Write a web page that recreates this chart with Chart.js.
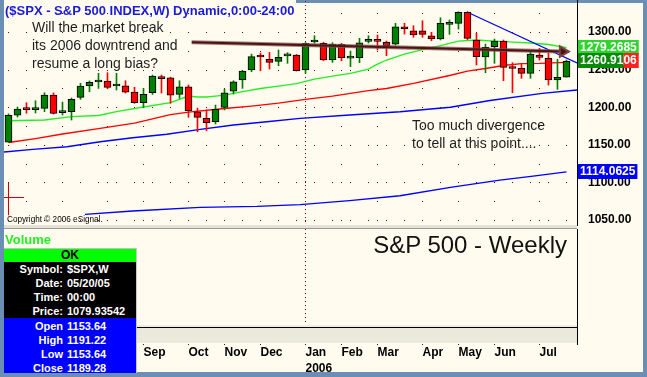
<!DOCTYPE html>
<html>
<head>
<meta charset="utf-8">
<script src="https://cdn.jsdelivr.net/npm/chart.js@4.4.1/dist/chart.umd.min.js"></script>
<style>
  body { margin: 0; width: 647px; height: 377px; overflow: hidden; position: relative; background: #6b8fb4; font-family: Arial, "Liberation Sans", sans-serif; }
  .abs { position: absolute; white-space: nowrap; }
  #paper { position: absolute; left: 4px; top: 0; width: 639px; height: 372px; background: #fffbef; }
  #topStrip { position: absolute; left: 296px; top: 0; width: 351px; height: 3px; background: #6b8fb4; }
  #priceChart { position: absolute; left: 4px; top: 0; }
  #volumeChart { position: absolute; left: 4px; top: 229px; }
  #sep { position: absolute; left: 4px; top: 225px; width: 573px; height: 3px; background: #e4e1d6; border-bottom: 1px solid #9a9a9a; }
  #info { position: absolute; left: 4px; top: 248px; width: 132px; height: 124px; border-top: 1px solid #c0c0c0; border-right: 1px solid #c8c8c8; font: bold 11px Arial, "Liberation Sans", sans-serif; color: #fff; overflow: hidden; }
  #info .ok { height: 13px; line-height: 13px; background: #00ff00; color: #000; text-align: center; font-size: 12px; }
  #info .blk { background: #000; height: 56px; }
  #info .blu { background: #0000ff; height: 55px; padding-top: 1px; }
  #info .row { display: flex; height: 14px; line-height: 14px; }
  #info .lb { width: 59px; text-align: right; margin-right: 4px; }
</style>
</head>
<body>
<div id="paper"></div>
<div id="topStrip"></div>
<canvas id="priceChart" width="639" height="229"></canvas>
<div id="sep"></div>
<canvas id="volumeChart" width="639" height="143"></canvas>

<div class="abs" style="left:5px;top:3px;line-height:16px;font-weight:bold;font-size:13px;color:#1a1adc;">($SPX - S&amp;P 500 INDEX,W) Dynamic,0:00-24:00</div>
<div class="abs" style="left:32px;top:18px;line-height:18px;font-size:14px;color:#1e1e1e;">Will the market break<br>its 2006 downtrend and<br>resume a long bias?</div>
<div class="abs" style="left:412px;top:116px;line-height:18px;font-size:14px;color:#1e1e1e;">Too much divergence<br>to tell at this point....</div>
<div class="abs" style="left:7px;top:214px;line-height:12px;font-size:8.2px;color:#000;">Copyright © 2006 eSignal.</div>
<div class="abs" style="left:5px;top:232px;line-height:16px;font-weight:bold;font-size:13px;color:#22ee22;">Volume</div>
<div class="abs" style="right:80px;top:231px;line-height:28px;font-size:24px;color:#111;">S&amp;P 500 - Weekly</div>

<div id="info">
  <div class="ok">OK</div>
  <div class="blk">
    <div class="row"><span class="lb">Symbol:</span><span>$SPX,W</span></div>
    <div class="row"><span class="lb">Date:</span><span>05/20/05</span></div>
    <div class="row"><span class="lb">Time:</span><span>00:00</span></div>
    <div class="row"><span class="lb">Price:</span><span>1079.93542</span></div>
  </div>
  <div class="blu">
    <div class="row"><span class="lb">Open</span><span>1153.64</span></div>
    <div class="row"><span class="lb">High</span><span>1191.22</span></div>
    <div class="row"><span class="lb">Low</span><span>1153.64</span></div>
    <div class="row"><span class="lb">Close</span><span>1189.28</span></div>
  </div>
</div>

<script>
// Weekly candles, 05/20/05 .. week of 07/24/06 (index = week number)
const opens = [1153.64, 1189.6, 1198.0, 1196.8, 1198.5, 1216.2, 1192.8, 1194.0, 1213.2, 1228.2,
  1233.6, 1234.8, 1228.2, 1228.6, 1220.2, 1206.0, 1219.3, 1240.6, 1239.0, 1217.2,
  1227.3, 1194.0, 1185.2, 1180.7, 1199.9, 1221.5, 1236.2, 1249.5, 1267.6, 1263.7,
  1261.0, 1268.2, 1269.4, 1249.5, 1286.7, 1285.0, 1262.8, 1283.6, 1265.4, 1265.8,
  1287.6, 1288.4, 1286.3, 1284.0, 1307.0, 1301.7, 1301.7, 1295.1, 1290.7, 1310.2,
  1311.6, 1326.2, 1289.4, 1267.0, 1280.5, 1288.0, 1252.1, 1251.7, 1245.1, 1269.4,
  1265.0, 1236.2, 1240.0];
const highs = [1191.22, 1200.3, 1206.0, 1208.6, 1219.3, 1219.0, 1206.9, 1212.2, 1231.8, 1235.0,
  1245.1, 1245.9, 1245.1, 1235.2, 1226.5, 1225.1, 1242.8, 1242.8, 1240.0, 1235.2,
  1229.5, 1198.9, 1196.3, 1202.9, 1224.2, 1235.2, 1249.0, 1270.7, 1272.0, 1273.0,
  1276.1, 1272.5, 1270.3, 1286.0, 1295.1, 1286.3, 1285.8, 1285.0, 1274.7, 1291.6,
  1295.1, 1296.0, 1288.0, 1311.6, 1311.6, 1308.4, 1315.0, 1299.6, 1319.0, 1316.0,
  1327.0, 1327.0, 1298.3, 1284.0, 1290.7, 1289.4, 1259.2, 1257.4, 1275.1, 1278.3,
  1271.7, 1263.7, 1262.8];
const lows = [1153.64, 1187.0, 1192.0, 1192.3, 1194.0, 1191.0, 1189.6, 1183.0, 1210.5, 1220.6,
  1225.0, 1224.6, 1222.9, 1218.9, 1205.2, 1199.3, 1217.0, 1218.9, 1205.2, 1211.8,
  1186.6, 1167.4, 1168.7, 1177.7, 1196.3, 1217.6, 1225.1, 1247.2, 1248.5, 1250.8,
  1255.2, 1258.4, 1248.0, 1245.1, 1285.0, 1262.0, 1259.7, 1261.8, 1253.9, 1259.2,
  1285.4, 1276.1, 1268.5, 1282.7, 1297.3, 1293.0, 1293.0, 1288.4, 1289.5, 1296.9,
  1304.0, 1290.0, 1256.1, 1245.9, 1258.4, 1235.2, 1219.3, 1238.4, 1238.4, 1262.8,
  1229.5, 1223.8, 1240.0];
const closes = [1189.28, 1197.6, 1196.8, 1197.6, 1216.2, 1191.9, 1193.6, 1210.5, 1228.2, 1233.1,
  1234.2, 1226.5, 1229.0, 1220.2, 1206.0, 1217.2, 1241.5, 1237.9, 1216.2, 1227.3,
  1195.3, 1186.6, 1179.4, 1197.2, 1219.3, 1233.9, 1248.1, 1267.2, 1266.8, 1259.7,
  1266.4, 1268.9, 1248.5, 1285.0, 1287.5, 1262.8, 1283.6, 1265.8, 1266.2, 1285.8,
  1288.4, 1287.6, 1281.8, 1307.0, 1304.0, 1296.0, 1296.9, 1290.7, 1311.6, 1311.0,
  1326.2, 1291.6, 1267.2, 1279.7, 1288.0, 1253.1, 1251.5, 1245.1, 1270.7, 1266.4,
  1236.2, 1239.8, 1260.91];

// moving averages and trendlines, read at week positions
const maGreen = [{x:0,y:1182.0},{x:4,y:1183.0},{x:7,y:1187.4},{x:10,y:1189.0},{x:12,y:1194.3},{x:15,y:1200.3},
  {x:18,y:1206.2},{x:20,y:1214.9},{x:21,y:1213.6},{x:22,y:1213.6},{x:23,y:1214.9},{x:24,y:1216.2},{x:26,y:1220.9},
  {x:28,y:1224.9},{x:30,y:1228.2},{x:32,y:1231.5},{x:34,y:1237.5},{x:36,y:1241.5},{x:38,y:1245.1},{x:40,y:1250.8},
  {x:41,y:1257.4},{x:42,y:1262.8},{x:44,y:1270.7},{x:46,y:1276.7},{x:48,y:1281.8},{x:50,y:1288.0},{x:52,y:1289.4},
  {x:54,y:1288.0},{x:56,y:1286.7},{x:58,y:1285.4},{x:60,y:1283.4},{x:62,y:1279.27}];
const maRed = [{x:0,y:1153.1},{x:3,y:1158.4},{x:6,y:1164.4},{x:10,y:1171.7},{x:14,y:1179.0},{x:18,y:1190.3},
  {x:20,y:1193.6},{x:24,y:1198.3},{x:27,y:1201.6},{x:30,y:1205.6},{x:33,y:1210.5},{x:36,y:1214.9},{x:40,y:1222.2},
  {x:42,y:1224.9},{x:45,y:1231.8},{x:49,y:1242.2},{x:51,y:1248.1},{x:53,y:1251.5},{x:55,y:1255.5},{x:57,y:1258.1},
  {x:59,y:1258.4},{x:62,y:1259.7}];
const maBlue = [{x:8.5,y:1057.6},{x:13.8,y:1062.0},{x:21.3,y:1066.9},{x:27.6,y:1068.2},{x:32.4,y:1070.6},
  {x:37.9,y:1075.7},{x:43.5,y:1082.3},{x:49.1,y:1093.5},{x:54.6,y:1103.2},{x:58.3,y:1108.5},{x:62,y:1114.06}];
const supportLine = [{x:-0.5,y:1140.4},{x:2.7,y:1144.0},{x:6.5,y:1147.5},{x:10.2,y:1154.1},{x:13.8,y:1159.4},
  {x:17.6,y:1164.0},{x:21.3,y:1170.6},{x:25,y:1176.3},{x:28.7,y:1180.7},{x:32.4,y:1185.2},{x:37.9,y:1189.6},
  {x:43.5,y:1194.0},{x:49.1,y:1199.9},{x:53.5,y:1208.9},{x:59.3,y:1218.5},{x:63.17,y:1222.9}];
const downTrend = [{x:50.94,y:1326.6},{x:63.17,y:1258.8}];
const arrowLine = [{x:20.36,y:1286.3},{x:61.6,y:1274.1}];

// cursor (crosshair) at the first bar
const crossH = [{x:-0.5,y:1079.94},{x:1.72,y:1079.94}];
const crossV = [{x:0,y:1099.2},{x:0,y:1056.6}];

// last-value tags on the price axis
const tagValues = [1279.2685, 1260.9106, 1114.0625];

const priceTicks = [1050, 1100, 1150, 1200, 1250, 1300];
const halfTicks = [1050, 1075, 1100, 1125, 1150, 1175, 1200, 1225, 1250, 1275, 1300, 1325];
const monthIdx = [2, 6, 11, 15, 20, 24, 28, 33, 37, 41, 46, 50, 54, 59];
const monthNames = ["Jun", "Jul", "Aug", "Sep", "Oct", "Nov", "Dec", "Jan", "Feb", "Mar", "Apr", "May", "Jun", "Jul"];
const janIdx = 33;

const xMin = -0.5, xMax = 63.17;
const yMin = 1043.4, yMax = 1342.6;

Chart.defaults.font.family = 'Arial, "Liberation Sans", sans-serif';

const upColor = "#008000";
const downColor = "#ff0000";
const bodyColors = opens.map((o, i) => (closes[i] >= o ? upColor : downColor));

// dotted eSignal grid: dots along price levels every 2 weeks, along month lines every half level
const dotGrid = {
  id: "dotGrid",
  beforeDatasetsDraw(chart) {
    const { ctx, chartArea, scales } = chart;
    const { x, y } = scales;
    ctx.save();
    ctx.fillStyle = "#800000";
    priceTicks.forEach((p) => {
      const py = Math.round(y.getPixelForValue(p));
      for (let w = 0; w <= 63; w += 2) {
        const px = Math.round(x.getPixelForValue(w) - 0.5);
        if (px < chartArea.right) ctx.fillRect(px, py, 1, 1);
      }
    });
    monthIdx.forEach((m) => {
      const px = Math.round(x.getPixelForValue(m) - 0.5);
      halfTicks.forEach((p) => {
        const py = Math.round(y.getPixelForValue(p));
        if (py > chartArea.top) ctx.fillRect(px, py, 1, 1);
      });
    });
    const jx = Math.round(x.getPixelForValue(janIdx) - 0.5);
    for (let py = chartArea.top + 1; py < chartArea.bottom; py += 4) ctx.fillRect(jx, py, 1, 1);
    ctx.restore();
  }
};

// tags drawn next to the axis
const tagPlugin = {
  id: "tags",
  afterDraw(chart) {
    const { ctx, chartArea, scales } = chart;
    const x0 = chartArea.right + 1;
    ctx.save();
    ctx.font = "bold 12px Arial, 'Liberation Sans', sans-serif";
    ctx.textBaseline = "middle";
    const styles = ["#2fd42f", "#0a8a0a", "#0000ff"];
    tagValues.forEach((v, k) => {
      const cy = Math.round(scales.y.getPixelForValue(v));
      let txt = v.toFixed(4);
      let tail = "";
      if (k === 1) { tail = txt.slice(-2); txt = txt.slice(0, -2); }
      const w = ctx.measureText(txt).width + 2;
      ctx.fillStyle = styles[k];
      ctx.fillRect(x0, cy - 8, w + (tail ? 0 : 2), 15);
      ctx.fillStyle = "#fff";
      ctx.fillText(txt, x0 + 2, cy);
      if (tail) {
        const tw = ctx.measureText(tail).width + 2;
        ctx.fillStyle = "#ff2020";
        ctx.fillRect(x0 + w, cy - 8, tw, 15);
        ctx.fillStyle = "#fff";
        ctx.fillText(tail, x0 + w, cy);
      }
    });
    ctx.restore();
  }
};

const lineDs = (data, color, width, order) => ({
  type: "line", data, borderColor: color, borderWidth: width, pointRadius: 0, tension: 0, order
});

// Price panel (candles + averages)
new Chart(document.getElementById("priceChart"), {
  type: "bar",
  data: {
    datasets: [
      {
        type: "line", data: arrowLine, borderColor: "#4a1414", borderWidth: 2, order: 0,
        pointRadius: (c) => (c.dataIndex === arrowLine.length - 1 ? 6 : 0),
        pointStyle: "triangle", pointRotation: 90,
        pointBackgroundColor: "#4a1414", pointBorderColor: "#7a4444"
      },
      lineDs(arrowLine, "rgba(130,80,80,0.75)", 4, 1),
      lineDs(crossH, "#d00000", 1, 2),
      lineDs(crossV, "#d00000", 1, 2),
      {
        label: "Body", order: 3, grouped: false,
        data: opens.map((o, i) => ({ x: i, y: [o, closes[i]] })),
        backgroundColor: bodyColors, borderColor: "#000", borderWidth: 1,
        borderSkipped: false, barThickness: 7, minBarLength: 2
      },
      {
        label: "Wick", order: 4, grouped: false,
        data: lows.map((l, i) => ({ x: i, y: [l, highs[i]] })),
        backgroundColor: bodyColors, borderWidth: 0, barThickness: 1
      },
      lineDs(downTrend, "#0000ff", 1.2, 5),
      lineDs(supportLine, "#0000ff", 1.4, 6),
      lineDs(maGreen, "#22ee22", 1.3, 7),
      lineDs(maRed, "#ff0000", 1.3, 8),
      lineDs(maBlue, "#0000ff", 1.3, 9)
    ]
  },
  options: {
    responsive: false,
    animation: false,
    events: [],
    layout: { autoPadding: false, padding: { bottom: 4 } },
    plugins: { legend: { display: false }, tooltip: { enabled: false } },
    scales: {
      x: {
        type: "linear", min: xMin, max: xMax, offset: false,
        afterBuildTicks: (s) => { s.ticks = monthIdx.map((v) => ({ value: v })); },
        afterFit: (s) => { s.height = 0; s.paddingLeft = 0; s.paddingRight = 0; },
        ticks: { display: false },
        grid: { display: false, offset: false },
        border: { display: false }
      },
      y: {
        position: "right", min: yMin, max: yMax,
        afterBuildTicks: (s) => { s.ticks = priceTicks.map((v) => ({ value: v })); },
        afterFit: (s) => { s.width = 66; s.paddingTop = 0; s.paddingBottom = 0; },
        ticks: { padding: 3, color: "#000", font: { weight: "bold", size: 12 }, callback: (v) => v.toFixed(2) },
        grid: { display: false },
        border: { color: "#000", width: 1 }
      }
    }
  },
  plugins: [dotGrid, tagPlugin]
});

// scroll bar strip and month tick dots under the volume pane
const axisBarPlugin = {
  id: "axisBar",
  afterDraw(chart) {
    const { ctx, chartArea, scales } = chart;
    const { left, right, bottom } = chartArea;
    ctx.save();
    ctx.fillStyle = "#f0eee4";
    ctx.fillRect(left, bottom, right - left, 2);
    ctx.fillStyle = "#000";
    ctx.fillRect(left, bottom + 2, right - left + 1, 1);
    ctx.fillStyle = "#ebe8dc";
    ctx.fillRect(left, bottom + 3, right - left, 15);
    ctx.fillStyle = "#000";
    ctx.fillRect(right, bottom, 1, 20);
    ctx.fillStyle = "#800000";
    monthIdx.forEach((m) => {
      const px = Math.round(scales.x.getPixelForValue(m) - 0.5);
      ctx.fillRect(px, bottom + 19, 1, 1);
    });
    ctx.restore();
  }
};

// Volume panel (empty) with the date axis
new Chart(document.getElementById("volumeChart"), {
  type: "line",
  data: { datasets: [] },
  options: {
    responsive: false,
    animation: false,
    events: [],
    layout: { autoPadding: false },
    plugins: { legend: { display: false }, tooltip: { enabled: false } },
    scales: {
      x: {
        type: "linear", min: xMin, max: xMax, offset: false,
        afterBuildTicks: (s) => { s.ticks = monthIdx.map((v) => ({ value: v })); },
        afterFit: (s) => { s.height = 47; s.paddingLeft = 0; s.paddingRight = 0; },
        ticks: {
          autoSkip: false, maxRotation: 0, align: "start", padding: 20, color: "#000",
          font: { weight: "bold", size: 12, lineHeight: 1.3333 },
          callback: (v) => {
            const k = monthIdx.indexOf(v);
            return v === janIdx ? [monthNames[k], "2006"] : monthNames[k];
          }
        },
        grid: { offset: false, drawTicks: false, color: (c) => (c.tick && c.tick.value === janIdx ? "#800000" : "rgba(0,0,0,0)") },
        border: { display: false, dash: [1, 3] }
      },
      y: {
        position: "right", min: 0, max: 1,
        afterFit: (s) => { s.width = 66; s.paddingTop = 0; s.paddingBottom = 0; },
        ticks: { display: false },
        grid: { display: false },
        border: { color: "#000", width: 1 }
      }
    }
  },
  plugins: [axisBarPlugin]
});
</script>
</body>
</html>
